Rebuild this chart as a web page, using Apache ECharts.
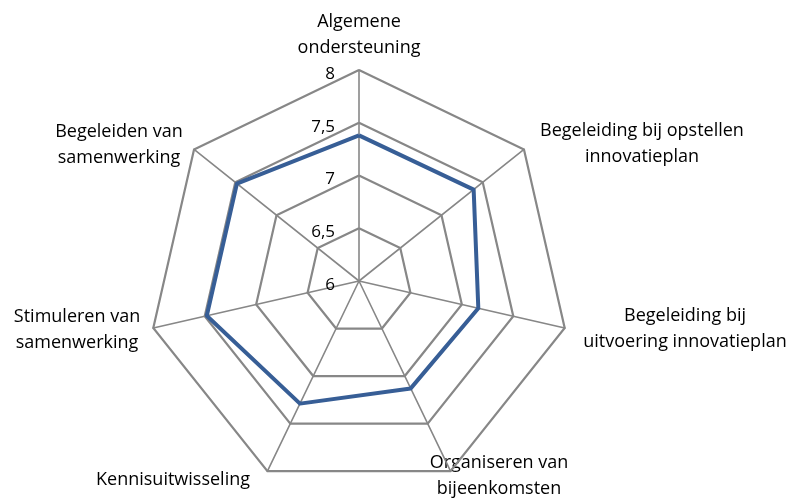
<!DOCTYPE html>
<html>
<head>
<meta charset="utf-8">
<script src="https://cdn.jsdelivr.net/npm/echarts@6/dist/echarts.min.js"></script>
<style>
  html, body { margin: 0; padding: 0; background: #fff; }
  #chart { width: 795px; height: 502px; }
</style>
</head>
<body>
<div id="chart"></div>
<script>
// categories in clockwise order, starting at the top
const categories = [
  'Algemene\nondersteuning',
  'Begeleiding bij opstellen\ninnovatieplan',
  'Begeleiding bij\nuitvoering innovatieplan',
  'Organiseren van\nbijeenkomsten',
  'Kennisuitwisseling',
  'Stimuleren van\nsamenwerking',
  'Begeleiden van\nsamenwerking'
];
const scores = [7.38, 7.39, 7.16, 7.13, 7.29, 7.48, 7.48];
const axisMin = 6;
const axisMax = 8;
const tickCount = 4; // 6, 6.5, 7, 7.5, 8

// label anchor points (center of text block)
const labelPos = [
  [359, 35], [642, 144], [685, 329], [499, 476], [173, 480], [77, 330], [119, 145]
];

const font = '"Open Sans", "Liberation Sans", sans-serif';

// echarts lays out radar indicators counter-clockwise, so keep first and reverse rest
const order = [0, 6, 5, 4, 3, 2, 1];

const chart = echarts.init(document.getElementById('chart'));
const option = {
  animation: false,
  radar: {
    center: [359, 281],
    radius: 211,
    startAngle: 90,
    splitNumber: tickCount,
    shape: 'polygon',
    axisName: { show: false },
    axisLine: { lineStyle: { color: '#878787', width: 1.6 } },
    splitLine: { lineStyle: { color: '#878787', width: 2.2 } },
    splitArea: { show: false },
    axisTick: { show: false },
    axisLabel: { show: false },
    indicator: order.map(function (i, k) {
      const ind = { name: categories[i], min: axisMin, max: axisMax };
      if (k === 0) {
        ind.axisLabel = {
          show: true,
          color: '#000',
          fontFamily: font,
          fontSize: 17,
          margin: 24,
          verticalAlign: 'top',
          lineHeight: 8,
          formatter: function (v) { return String(v).replace('.', ','); }
        };
      }
      return ind;
    })
  },
  series: [{
    type: 'radar',
    symbol: 'none',
    lineStyle: { color: '#375e96', width: 4 },
    data: [{ value: order.map(function (i) { return scores[i]; }) }]
  }],
  graphic: categories.map(function (c, i) {
    return {
      type: 'text',
      x: labelPos[i][0],
      y: labelPos[i][1],
      style: {
        text: c,
        fill: '#000',
        font: '18px ' + font,
        lineHeight: 26,
        align: 'center',
        verticalAlign: 'middle'
      }
    };
  })
};
chart.setOption(option);
</script>
</body>
</html>
